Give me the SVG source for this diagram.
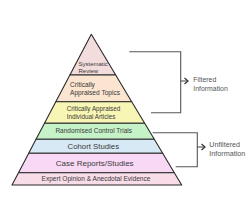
<svg xmlns="http://www.w3.org/2000/svg" width="250" height="220" viewBox="0 0 250 220">
<style>
.band{stroke:#2a2a2a;stroke-width:1.1;stroke-linejoin:round}
.t{font-family:"Liberation Sans",Arial,sans-serif;fill:#3a3a3a}
.lbl{font-family:"Liberation Sans",Arial,sans-serif;fill:#555}
.br{fill:none;stroke:#555;stroke-width:1.1}
</style>
<defs>
<marker id="chev" markerWidth="6" markerHeight="8" refX="4.5" refY="4" orient="auto" markerUnits="userSpaceOnUse">
<path d="M1,1 L4.5,4 L1,7" fill="none" stroke="#333" stroke-width="1.2"/>
</marker>
</defs>
<rect width="250" height="220" fill="#fff"/>
<g id="systematic-review">
<polygon class="band" fill="#f3dcdc" points="91.3,34.3 115.7,75 69.9,75"/>
<text class="t" font-size="6" x="78.5" y="66">Systematic</text>
<text class="t" font-size="6" x="78.5" y="72.7">Review</text>
</g>
<g id="critically-appraised-topics">
<polygon class="band" fill="#fbe4d0" points="69.9,75 115.7,75 131.7,101.7 55.8,101.7"/>
<text class="t" font-size="6.6" x="70" y="87.3">Critically</text>
<text class="t" font-size="6.6" x="70" y="95">Appraised Topics</text>
</g>
<g id="critically-appraised-articles">
<polygon class="band" fill="#f8f6b4" points="55.8,101.7 131.7,101.7 144.7,123.3 44.5,123.3"/>
<text class="t" font-size="6.3" x="66.7" y="111">Critically Appraised</text>
<text class="t" font-size="6.3" x="66.7" y="118.7">Individual Articles</text>
</g>
<g id="randomised-control-trials">
<polygon class="band" fill="#c6f2c8" points="44.5,123.3 144.7,123.3 154.3,139.3 36,139.3"/>
<text class="t" font-size="6.5" x="93.7" y="132.8" text-anchor="middle">Randomised Control Trials</text>
</g>
<g id="cohort-studies">
<polygon class="band" fill="#d8e9f6" points="36,139.3 154.3,139.3 162.7,153.3 28.7,153.3"/>
<text class="t" font-size="7.8" x="93.3" y="148.5" text-anchor="middle">Cohort Studies</text>
</g>
<g id="case-reports">
<polygon class="band" fill="#f8d8f4" points="28.7,153.3 162.7,153.3 174.3,172.7 18.5,172.7"/>
<text class="t" font-size="8" x="94.7" y="165.7" text-anchor="middle">Case Reports/Studies</text>
</g>
<g id="expert-opinion">
<polygon class="band" fill="#f8dce8" points="18.5,172.7 174.3,172.7 181.7,185 12,185"/>
<text class="t" font-size="6.55" x="96" y="180.8" text-anchor="middle">Expert Opinion &amp; Anecdotal Evidence</text>
</g>
<g id="connectors">
<path class="br" d="M129.3,51.7 H180.7 V112.7 H151"/>
<path class="br" d="M180.7,81 H188" marker-end="url(#chev)"/>
<path class="br" d="M152.7,132.7 H197.3 V166.7 H175.7"/>
<path class="br" d="M197.3,147 H205" marker-end="url(#chev)"/>
</g>
<g id="filtered-label">
<text class="lbl" font-size="6.9" x="193.3" y="82.3">Filtered</text>
<text class="lbl" font-size="6.9" x="193.3" y="90.7">Information</text>
</g>
<g id="unfiltered-label">
<text class="lbl" font-size="7.2" x="209.3" y="146.7">Unfiltered</text>
<text class="lbl" font-size="7.2" x="209.3" y="155.7">Information</text>
</g>
</svg>
